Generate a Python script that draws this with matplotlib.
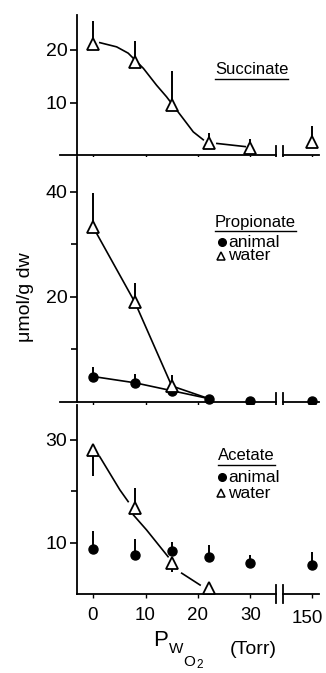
import numpy as np
import matplotlib
matplotlib.use('Agg')
import matplotlib.pyplot as plt
from matplotlib.lines import Line2D

plt.rcParams['font.family'] = ['Liberation Sans', 'DejaVu Sans']

# x positions (Torr); 150 sits right of the axis break
x_labels = ['0', '10', '20', '30', '150']
x_ticks = [0, 10, 20, 30, 41.7]
pw = [0, 8, 15, 22, 30, 41.7]   # measured PwO2 (last = 150 Torr)

# Succinate, water
succ_water = [21.1, 17.8, 9.5, 2.3, 1.3, 2.5]
succ_water_top = [25.6, 21.8, 16.0, 4.1, 3.0, 5.5]
# hand-drawn fit curve
succ_curve_x = [1.3, 4.5, 6.7, 9.6, 12.1, 14.0, 16.9, 19.1, 21.0]
succ_curve_y = [21.4, 20.6, 19.4, 16.5, 13.3, 11.1, 7.3, 4.4, 2.9]
succ_tail_x = [23.6, 29.0]
succ_tail_y = [2.2, 1.6]

# Propionate
prop_water_x = [0, 8, 15, 22]
prop_water = [33.3, 18.9, 3.0, 0.6]
prop_water_top = [39.7, 22.7, 5.1]
prop_animal = [4.8, 3.6, 2.1, 0.6, 0.2, 0.2]
prop_animal_top = [6.7, 5.3, 2.1, 0.6, 0.2, 0.2]

# Acetate
acet_water_x = [0, 8, 15, 22]
acet_water = [28.1, 16.7, 6.0, 1.2]
acet_water_err = [23.0, 20.6, 4.4, 1.2]
acet_curve_x = [1.3, 3.2, 5.1, 6.7]
acet_curve_y = [26.7, 23.5, 20.3, 18.0]
acet_curve2_x = [7.7, 10.2, 12.8, 14.3]
acet_curve2_y = [15.4, 12.5, 9.2, 7.3]
acet_curve3_x = [16.9, 20.4]
acet_curve3_y = [4.1, 1.8]
acet_animal = [8.7, 7.6, 8.4, 7.2, 6.0, 5.7]
acet_animal_top = [12.3, 10.7, 10.2, 9.6, 7.6, 8.2]

W, H = 326, 673
fig = plt.figure(figsize=(W / 100, H / 100), dpi=100)


def fx(x):
    return x / W


def fy(y):
    return 1 - y / H


x0_px, x_scale = 93, 5.25
xlim = ((77 - x0_px) / x_scale, (322 - x0_px) / x_scale)


def make_ax(top_px, bot_px, ymax):
    ax = fig.add_axes([fx(77), fy(bot_px), fx(322) - fx(77), (bot_px - top_px) / H])
    ax.set_xlim(*xlim)
    ax.set_ylim(0, ymax)
    for s in ['top', 'right', 'bottom']:
        ax.spines[s].set_visible(False)
    ax.spines['left'].set_linewidth(1.3)
    ax.tick_params(axis='y', direction='out', length=5, width=1.2, labelsize=14, pad=2)
    ax.tick_params(axis='y', which='minor', length=4, width=1.2)
    ax.tick_params(axis='x', direction='out', length=3, width=1.0, labelsize=13.5, pad=6)
    ax.set_xticks(x_ticks)
    return ax


def x_axis(ax, left, unit_px):
    ax.plot([left, 34.9], [0, 0], color='k', lw=1.3, clip_on=False)
    ax.plot([36.2, 43.0], [0, 0], color='k', lw=1.3, clip_on=False)
    h = 9 / unit_px
    for xb in [34.9, 36.2]:
        ax.plot([xb, xb], [-h, h], color='k', lw=1.3, clip_on=False)


tri = dict(marker='^', ms=8, mfc='white', mec='k', mew=1.3, ls='none', clip_on=False, zorder=4)
dot = dict(marker='o', ms=6.5, mfc='k', mec='k', ls='none', clip_on=False, zorder=4)
err = dict(color='k', lw=1.4, clip_on=False, zorder=3)
ln = dict(color='k', lw=1.2, clip_on=False)

# --- Succinate ---
ax1 = make_ax(15, 155, 140 / 5.25)
ax1.set_yticks([10, 20])
ax1.set_xticklabels([])
x_axis(ax1, -6.3, 5.25)
ax1.vlines(pw, succ_water, succ_water_top, **err)
ax1.plot(succ_curve_x, succ_curve_y, **ln)
ax1.plot(succ_tail_x, succ_tail_y, **ln)
ax1.plot(pw, succ_water, **tri)

# --- Propionate ---
ax2 = make_ax(157, 401.7, 244.7 / 5.25)
ax2.set_yticks([20, 40])
ax2.set_yticks([10, 30], minor=True)
ax2.set_xticklabels([])
x_axis(ax2, -6.3, 5.25)
ax2.vlines(prop_water_x[:3], prop_water[:3], prop_water_top, **err)
ax2.vlines(pw, prop_animal, prop_animal_top, **err)
ax2.plot(prop_water_x, prop_water, **ln)
ax2.plot(pw[:4], prop_animal[:4], **ln)
ax2.plot(pw, prop_animal, **dot)
ax2.plot(prop_water_x[:3], prop_water[:3], **tri)

# --- Acetate ---
ax3 = make_ax(405, 594.3, 189.3 / 5.15)
ax3.set_yticks([10, 30])
ax3.set_yticks([20], minor=True)
ax3.set_xticklabels(x_labels[:-1] + [''])
# "150" drawn a touch left so it stays inside the canvas
ax3.text(40.9, -24 / 5.15, x_labels[-1], ha='center', va='center', fontsize=13.5)
x_axis(ax3, xlim[0], 5.15)
ax3.vlines(acet_water_x, acet_water, acet_water_err, **err)
ax3.vlines(pw, acet_animal, acet_animal_top, **err)
ax3.plot(acet_curve_x, acet_curve_y, **ln)
ax3.plot(acet_curve2_x, acet_curve2_y, **ln)
ax3.plot(acet_curve3_x, acet_curve3_y, **ln)
ax3.plot(pw, acet_animal, **dot)
ax3.plot(acet_water_x, acet_water, **tri)

# labels
fig.text(fx(26), fy(297), 'μmol/g dw', rotation=90, ha='center', va='center', fontsize=14)
fig.text(fx(161), fy(641), 'P', ha='center', va='center', fontsize=16)
fig.text(fx(176.5), fy(649), 'W', ha='center', va='center', fontsize=11)
fig.text(fx(189.5), fy(662), 'O', ha='center', va='center', fontsize=11)
fig.text(fx(199.5), fy(665), '2', ha='center', va='center', fontsize=8.5)
fig.text(fx(253), fy(649), '(Torr)', ha='center', va='center', fontsize=14)

titles = []
titles.append(fig.text(fx(215), fy(70), 'Succinate', ha='left', va='center', fontsize=12))
titles.append(fig.text(fx(215), fy(223), 'Propionate', ha='left', va='center', fontsize=12))
titles.append(fig.text(fx(218), fy(456), 'Acetate', ha='left', va='center', fontsize=12))

legend_rows = [(242, 'o', 'animal'), (256, '^', 'water'), (477, 'o', 'animal'), (493, '^', 'water')]
for ypx, m, lab in legend_rows:
    if m == 'o':
        fig.lines.append(Line2D([fx(222)], [fy(ypx)], marker='o', ms=5.5, mfc='k', mec='k',
                                ls='none', transform=fig.transFigure))
    else:
        fig.lines.append(Line2D([fx(221)], [fy(ypx)], marker='^', ms=6, mfc='white', mec='k',
                                mew=1.1, ls='none', transform=fig.transFigure))
    fig.text(fx(228), fy(ypx), lab, ha='left', va='center', fontsize=12.5)

# underline the titles
fig.canvas.draw()
r = fig.canvas.get_renderer()
for t in titles:
    bb = t.get_window_extent(renderer=r)
    yline = bb.y0 - 1
    fig.lines.append(Line2D([bb.x0 / W, bb.x1 / W], [yline / H, yline / H], color='k', lw=1.0,
                            transform=fig.transFigure))

fig.savefig('out.png', dpi=100)
